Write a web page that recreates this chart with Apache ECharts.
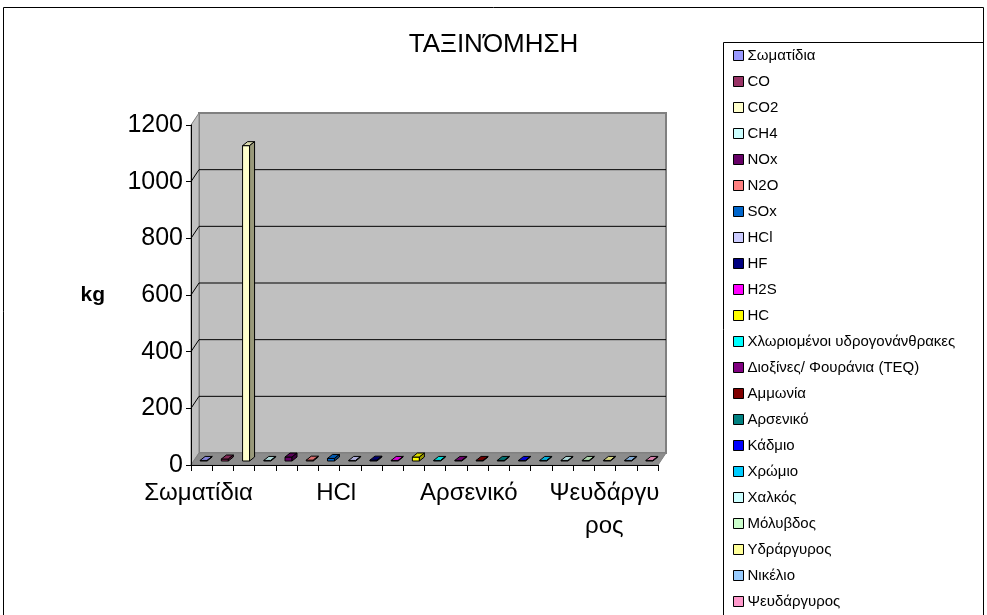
<!DOCTYPE html>
<html>
<head>
<meta charset="utf-8">
<script src="https://cdn.jsdelivr.net/npm/echarts@6/dist/echarts.min.js"></script>
<style>
  html, body { margin: 0; padding: 0; background: #fff; }
  #chart { width: 987px; height: 615px; }
</style>
</head>
<body>
<div id="chart"></div>
<script>
// Emission categories (one coloured bar each)
const categories = [
  'Σωματίδια', 'CO', 'CO2', 'CH4', 'NOx', 'N2O', 'SOx', 'HCl', 'HF', 'H2S', 'HC',
  'Χλωριομένοι υδρογονάνθρακες', 'Διοξίνες/ Φουράνια (TEQ)', 'Αμμωνία', 'Αρσενικό',
  'Κάδμιο', 'Χρώμιο', 'Χαλκός', 'Μόλυβδος', 'Υδράργυρος', 'Νικέλιο', 'Ψευδάργυρος'
];
// Quantities in kg
const values = [2, 7, 1113, 2, 14, 3, 9, 2, 3, 2, 14, 2, 2, 2, 2, 2, 2, 2, 2, 2, 2, 2];
const colors = [
  '#9999FF', '#993366', '#FFFFCC', '#CCFFFF', '#660066', '#FF8080', '#0066CC', '#CCCCFF',
  '#000080', '#FF00FF', '#FFFF00', '#00FFFF', '#800080', '#800000', '#008080', '#0000FF',
  '#00CCFF', '#CCFFFF', '#CCFFCC', '#FFFF99', '#99CCFF', '#FF99CC'
];
const yTicks = [0, 200, 400, 600, 800, 1000, 1200];

// 3D look: wall depth and bar depth (pixels)
const WALL_DX = 8, WALL_DY = -12;
const BAR_OFF_X = 2, BAR_OFF_Y = -4;
const BAR_DX = 5, BAR_DY = -4;
const BAR_FRAC = 0.33;

function shade(hex, k) {
  const n = parseInt(hex.slice(1), 16);
  const r = Math.round(((n >> 16) & 255) * k);
  const g = Math.round(((n >> 8) & 255) * k);
  const b = Math.round((n & 255) * k);
  return 'rgb(' + r + ',' + g + ',' + b + ')';
}

function renderWalls(params, api) {
  const cs = params.coordSys;
  const x0 = cs.x, x1 = cs.x + cs.width, yT = cs.y, yB = cs.y + cs.height;
  const dx = WALL_DX, dy = WALL_DY;
  const children = [
    { type: 'polygon', shape: { points: [[x0 + dx, yT + dy], [x1 + dx, yT + dy], [x1 + dx, yB + dy], [x0 + dx, yB + dy]] },
      style: { fill: '#c0c0c0', stroke: '#808080', lineWidth: 2 } },
    { type: 'polygon', shape: { points: [[x0, yT], [x0 + dx, yT + dy], [x0 + dx, yB + dy], [x0, yB]] },
      style: { fill: '#c0c0c0', stroke: '#808080', lineWidth: 1 } },
    { type: 'polygon', shape: { points: [[x0, yB], [x0 + dx, yB + dy], [x1 + dx, yB + dy], [x1, yB]] },
      style: { fill: '#8c8c8c', stroke: '#808080', lineWidth: 1 } }
  ];
  yTicks.forEach(function (t) {
    if (t === 0 || t === yTicks[yTicks.length - 1]) return;
    const y = api.coord([0, t])[1];
    children.push({ type: 'line', shape: { x1: x0 + dx, y1: y + dy, x2: x1 + dx, y2: y + dy },
      style: { stroke: '#000', lineWidth: 1 } });
    children.push({ type: 'line', shape: { x1: x0, y1: y, x2: x0 + dx, y2: y + dy },
      style: { stroke: '#000', lineWidth: 1 } });
  });
  return { type: 'group', children: children };
}

function makeBarRenderer(color) {
  return function (params, api) {
    const i = api.value(0), v = api.value(1);
    const base = api.coord([i, 0]);
    const top = api.coord([i, v]);
    const bw = api.size([1, 0])[0] * BAR_FRAC;
    const xl = base[0] - bw / 2 + BAR_OFF_X, xr = xl + bw;
    const yb = base[1] + BAR_OFF_Y, yt = top[1] + BAR_OFF_Y;
    const edge = { stroke: '#000', lineWidth: 1 };
    return {
      type: 'group',
      children: [
        { type: 'polygon', shape: { points: [[xl, yb], [xr, yb], [xr, yt], [xl, yt]] },
          style: Object.assign({ fill: color }, edge) },
        { type: 'polygon', shape: { points: [[xl, yt], [xr, yt], [xr + BAR_DX, yt + BAR_DY], [xl + BAR_DX, yt + BAR_DY]] },
          style: Object.assign({ fill: shade(color, 0.85) }, edge) },
        { type: 'polygon', shape: { points: [[xr, yb], [xr + BAR_DX, yb + BAR_DY], [xr + BAR_DX, yt + BAR_DY], [xr, yt]] },
          style: Object.assign({ fill: shade(color, 0.6) }, edge) }
      ]
    };
  };
}

const series = [{
  name: 'walls',
  type: 'custom',
  z: 1,
  silent: true,
  renderItem: renderWalls,
  data: [[0, 0]]
}];
categories.forEach(function (c, i) {
  series.push({
    name: c,
    type: 'custom',
    z: 3,
    itemStyle: { color: colors[i], borderColor: '#000', borderWidth: 1 },
    renderItem: makeBarRenderer(colors[i]),
    data: [[i, values[i]]]
  });
});

// Only every 7th category is labelled; labels drift left progressively
const labelStyleKey = { 0: 'a', 7: 'b', 14: 'c', 21: 'd' };
const FONT = '"Liberation Sans", Arial, sans-serif';

const chart = echarts.init(document.getElementById('chart'), null, { renderer: 'canvas' });
chart.setOption({
  animation: false,
  backgroundColor: '#fff',
  textStyle: { fontFamily: FONT },
  title: {
    text: 'ΤΑΞΙΝΌΜΗΣΗ',
    left: 'center',
    top: 27,
    textStyle: { fontSize: 26, fontWeight: 'normal', color: '#000', fontFamily: FONT }
  },
  legend: {
    data: categories,
    orient: 'vertical',
    left: 733,
    top: 48,
    icon: 'rect',
    itemWidth: 10,
    itemHeight: 10,
    itemGap: 11,
    padding: 0,
    itemStyle: { borderColor: '#000', borderWidth: 1 },
    textStyle: { fontSize: 15, color: '#000', fontFamily: FONT, padding: [0, 0, 0, -1] },
    selectedMode: false
  },
  grid: { left: 191, right: 329, top: 125, bottom: 150 },
  xAxis: {
    type: 'category',
    data: categories,
    boundaryGap: true,
    z: 5,
    axisLine: { show: true, lineStyle: { color: '#000', width: 1 } },
    axisTick: { show: true, interval: 0, length: 6, lineStyle: { color: '#000' } },
    splitLine: { show: false },
    axisLabel: {
      interval: 0,
      margin: 12,
      color: '#000',
      fontSize: 24,
      lineHeight: 33,
      fontFamily: FONT,
      formatter: function (val, idx) {
        const key = labelStyleKey[idx];
        if (!key) return '';
        const text = val === 'Ψευδάργυρος' ? 'Ψευδάργυ\nρος' : val;
        return text.split('\n').map(function (s) { return '{' + key + '|' + s + '}'; }).join('\n');
      },
      rich: {
        a: { fontSize: 24, lineHeight: 33, color: '#000', padding: [0, 6, 0, 0] },
        b: { fontSize: 24, lineHeight: 33, color: '#000', padding: [0, 28, 0, 0] },
        c: { fontSize: 24, lineHeight: 33, color: '#000', padding: [0, 60, 0, 0] },
        d: { fontSize: 24, lineHeight: 33, color: '#000', padding: [0, 86, 0, 0] }
      }
    }
  },
  yAxis: {
    type: 'value',
    min: 0,
    max: 1200,
    interval: 200,
    z: 5,
    name: 'kg',
    nameLocation: 'middle',
    nameRotate: 0,
    nameGap: 86,
    nameTextStyle: { fontSize: 21, fontWeight: 'bold', color: '#000', fontFamily: FONT },
    axisLine: { show: true, lineStyle: { color: '#000', width: 1 } },
    axisTick: { show: true, length: 5, lineStyle: { color: '#000' } },
    splitLine: { show: false },
    axisLabel: {
      color: '#000', fontSize: 25, margin: 8, fontFamily: FONT,
      formatter: function (v) { return String(v); }
    }
  },
  graphic: [
    { type: 'rect', z: 100, silent: true,
      shape: { x: 3.5, y: 7.5, width: 980, height: 640 },
      style: { fill: 'none', stroke: '#000', lineWidth: 1 } },
    { type: 'rect', z: 100, silent: true,
      shape: { x: 723.5, y: 42.5, width: 260, height: 640 },
      style: { fill: 'none', stroke: '#000', lineWidth: 1 } }
  ],
  series: series
});
</script>
</body>
</html>
